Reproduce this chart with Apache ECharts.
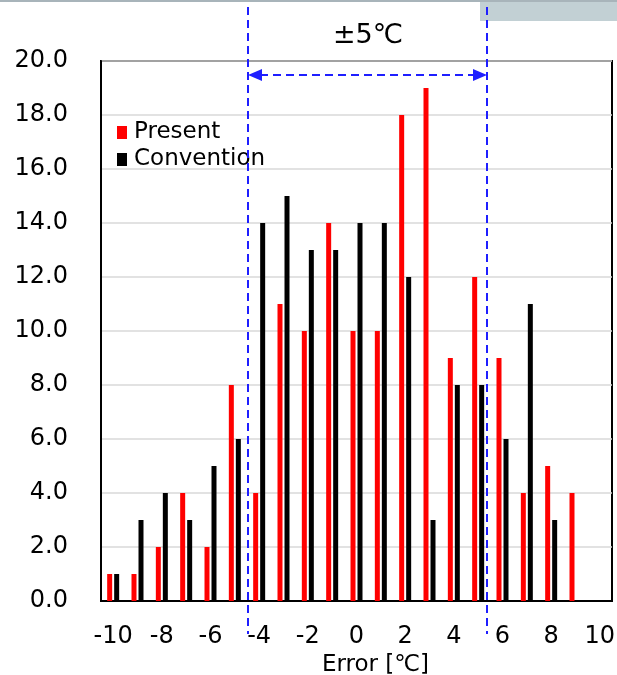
<!DOCTYPE html>
<html>
<head>
<meta charset="utf-8">
<script src="https://cdn.jsdelivr.net/npm/echarts@6/dist/echarts.min.js"></script>
<style>
html,body{margin:0;padding:0;background:#fff;}
#chart{width:617px;height:675px;}
</style>
</head>
<body>
<div id="chart"></div>
<script>
var categories = ['-10','-9','-8','-7','-6','-5','-4','-3','-2','-1','0','1','2','3','4','5','6','7','8','9','10'];
var presentValues = [1,1,2,4,2,8,4,11,10,14,10,10,18,19,9,12,9,4,5,4,null];
var conventionValues = [1,3,4,3,5,6,14,15,13,13,14,14,12,3,8,8,6,11,3,null,null];
var yTicks = {min:0, max:20, interval:2};

var FONT = 'DejaVu Sans';
var chart = echarts.init(document.getElementById('chart'), null, {renderer:'canvas'});
var blue = '#1f1fff';
chart.setOption({
  animation:false,
  textStyle:{fontFamily:FONT},
  grid:{left:101, right:5, top:61, bottom:74, show:true, borderColor:'#000', borderWidth:2,
        backgroundColor:'transparent', containLabel:false, outerBoundsMode:'none'},
  legend:{
    left:112, top:116, orient:'vertical', itemWidth:10, itemHeight:13, itemGap:4,
    icon:'rect',
    textStyle:{fontFamily:FONT, fontSize:23, color:'#000', padding:[0,0,0,2]},
    data:['Present','Convention']
  },
  xAxis:{
    type:'category', data:categories,
    axisLine:{lineStyle:{color:'#000', width:2}},
    axisTick:{show:false},
    axisLabel:{interval:1, fontSize:24, color:'#000', margin:24, fontFamily:FONT},
    name:'Error [℃]', nameLocation:'middle', nameGap:53,
    nameTextStyle:{fontSize:23, color:'#000', fontFamily:FONT, padding:[0,0,0,38]}
  },
  yAxis:{
    type:'value', min:yTicks.min, max:yTicks.max, interval:yTicks.interval,
    axisLine:{show:true, lineStyle:{color:'#000', width:2}},
    axisTick:{show:false},
    splitLine:{lineStyle:{color:'#d9d9d9', width:1.5}},
    axisLabel:{fontSize:24, color:'#000', margin:33, fontFamily:FONT,
      formatter:function(v){return v.toFixed(1);}}
  },
  series:[
    {name:'Present', type:'bar', data:presentValues, barWidth:5, barGap:'40%', itemStyle:{color:'#ff0000'}},
    {name:'Convention', type:'bar', data:conventionValues, barWidth:5, barGap:'40%', itemStyle:{color:'#000000'}}
  ],
  graphic:[
    {type:'rect', shape:{x:480, y:0, width:137, height:21}, style:{fill:'#c2d0d4'}, z:0},
    {type:'rect', shape:{x:0, y:0, width:617, height:2}, style:{fill:'#a8b4ba'}, z:0},
    {type:'line', shape:{x1:248, y1:7, x2:248, y2:634}, style:{stroke:blue, lineWidth:2, lineDash:[8,5]}, z:100},
    {type:'line', shape:{x1:487, y1:7, x2:487, y2:634}, style:{stroke:blue, lineWidth:2, lineDash:[8,5]}, z:100},
    {type:'line', shape:{x1:260, y1:75, x2:475, y2:75}, style:{stroke:blue, lineWidth:2, lineDash:[8,5]}, z:100},
    {type:'polygon', shape:{points:[[248,75],[262,69],[262,81]]}, style:{fill:blue}, z:100},
    {type:'polygon', shape:{points:[[487,75],[473,69],[473,81]]}, style:{fill:blue}, z:100},
    {type:'text', x:368, y:36, style:{text:'±5℃', font:'27px "DejaVu Sans"', fill:'#000', textAlign:'center', textVerticalAlign:'middle'}, z:100}
  ]
});
</script>
</body>
</html>
